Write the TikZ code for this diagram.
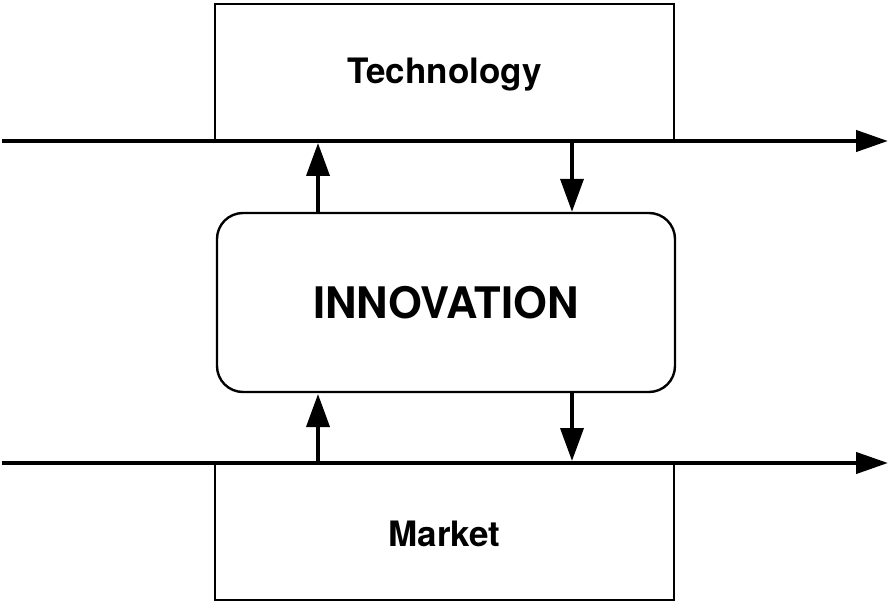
\documentclass[tikz,border=0pt]{standalone}
\usepackage{fontspec}
\setmainfont{TeX Gyre Heros}
\usetikzlibrary{arrows.meta}
\begin{document}
\begin{tikzpicture}[x=1pt,y=-1pt,
  sidebox/.style={draw,line width=2.4pt,minimum width=459pt,minimum height=137pt,inner sep=0pt,font=\bfseries\fontsize{35}{40}\selectfont},
  corebox/.style={draw,line width=2.4pt,rounded corners=26pt,minimum width=458pt,minimum height=179pt,inner sep=0pt,font=\bfseries\fontsize{43.5}{48}\selectfont},
  flow/.style={line width=4.2pt,-{Triangle[length=32pt,width=21pt]}},
  link/.style={line width=3.7pt,-{Triangle[length=33pt,width=23pt]}}]
\useasboundingbox (0,0) rectangle (892,604);
\node[sidebox] (tech) at (444.5,72.5) {};
\node[font=\bfseries\fontsize{35}{40}\selectfont] (techlbl) at (444.5,74.5) {Technology};
\node[sidebox] (market) at (444.5,531.5) {};
\node[font=\bfseries\fontsize{35}{40}\selectfont] (marketlbl) at (444.5,533.5) {Market};
\node[corebox] (innov) at (446,302.5) {INNOVATION};
\coordinate (t0) at (2,141);
\coordinate (t1) at (888,141);
\coordinate (m0) at (2,463);
\coordinate (m1) at (888,463);
\draw[flow] (t0) -- (t1);
\draw[flow] (m0) -- (m1);
\coordinate (a1) at (318,143);
\coordinate (a2) at (572,141);
\coordinate (a3) at (318,394);
\coordinate (a4) at (572,461);
\draw[link] (innov.north -| a1) -- (a1);
\draw[link] (a2) -- (innov.north -| a2);
\draw[link] (m0 -| a3) -- (a3);
\draw[link] (innov.south -| a4) -- (a4);
\end{tikzpicture}
\end{document}
